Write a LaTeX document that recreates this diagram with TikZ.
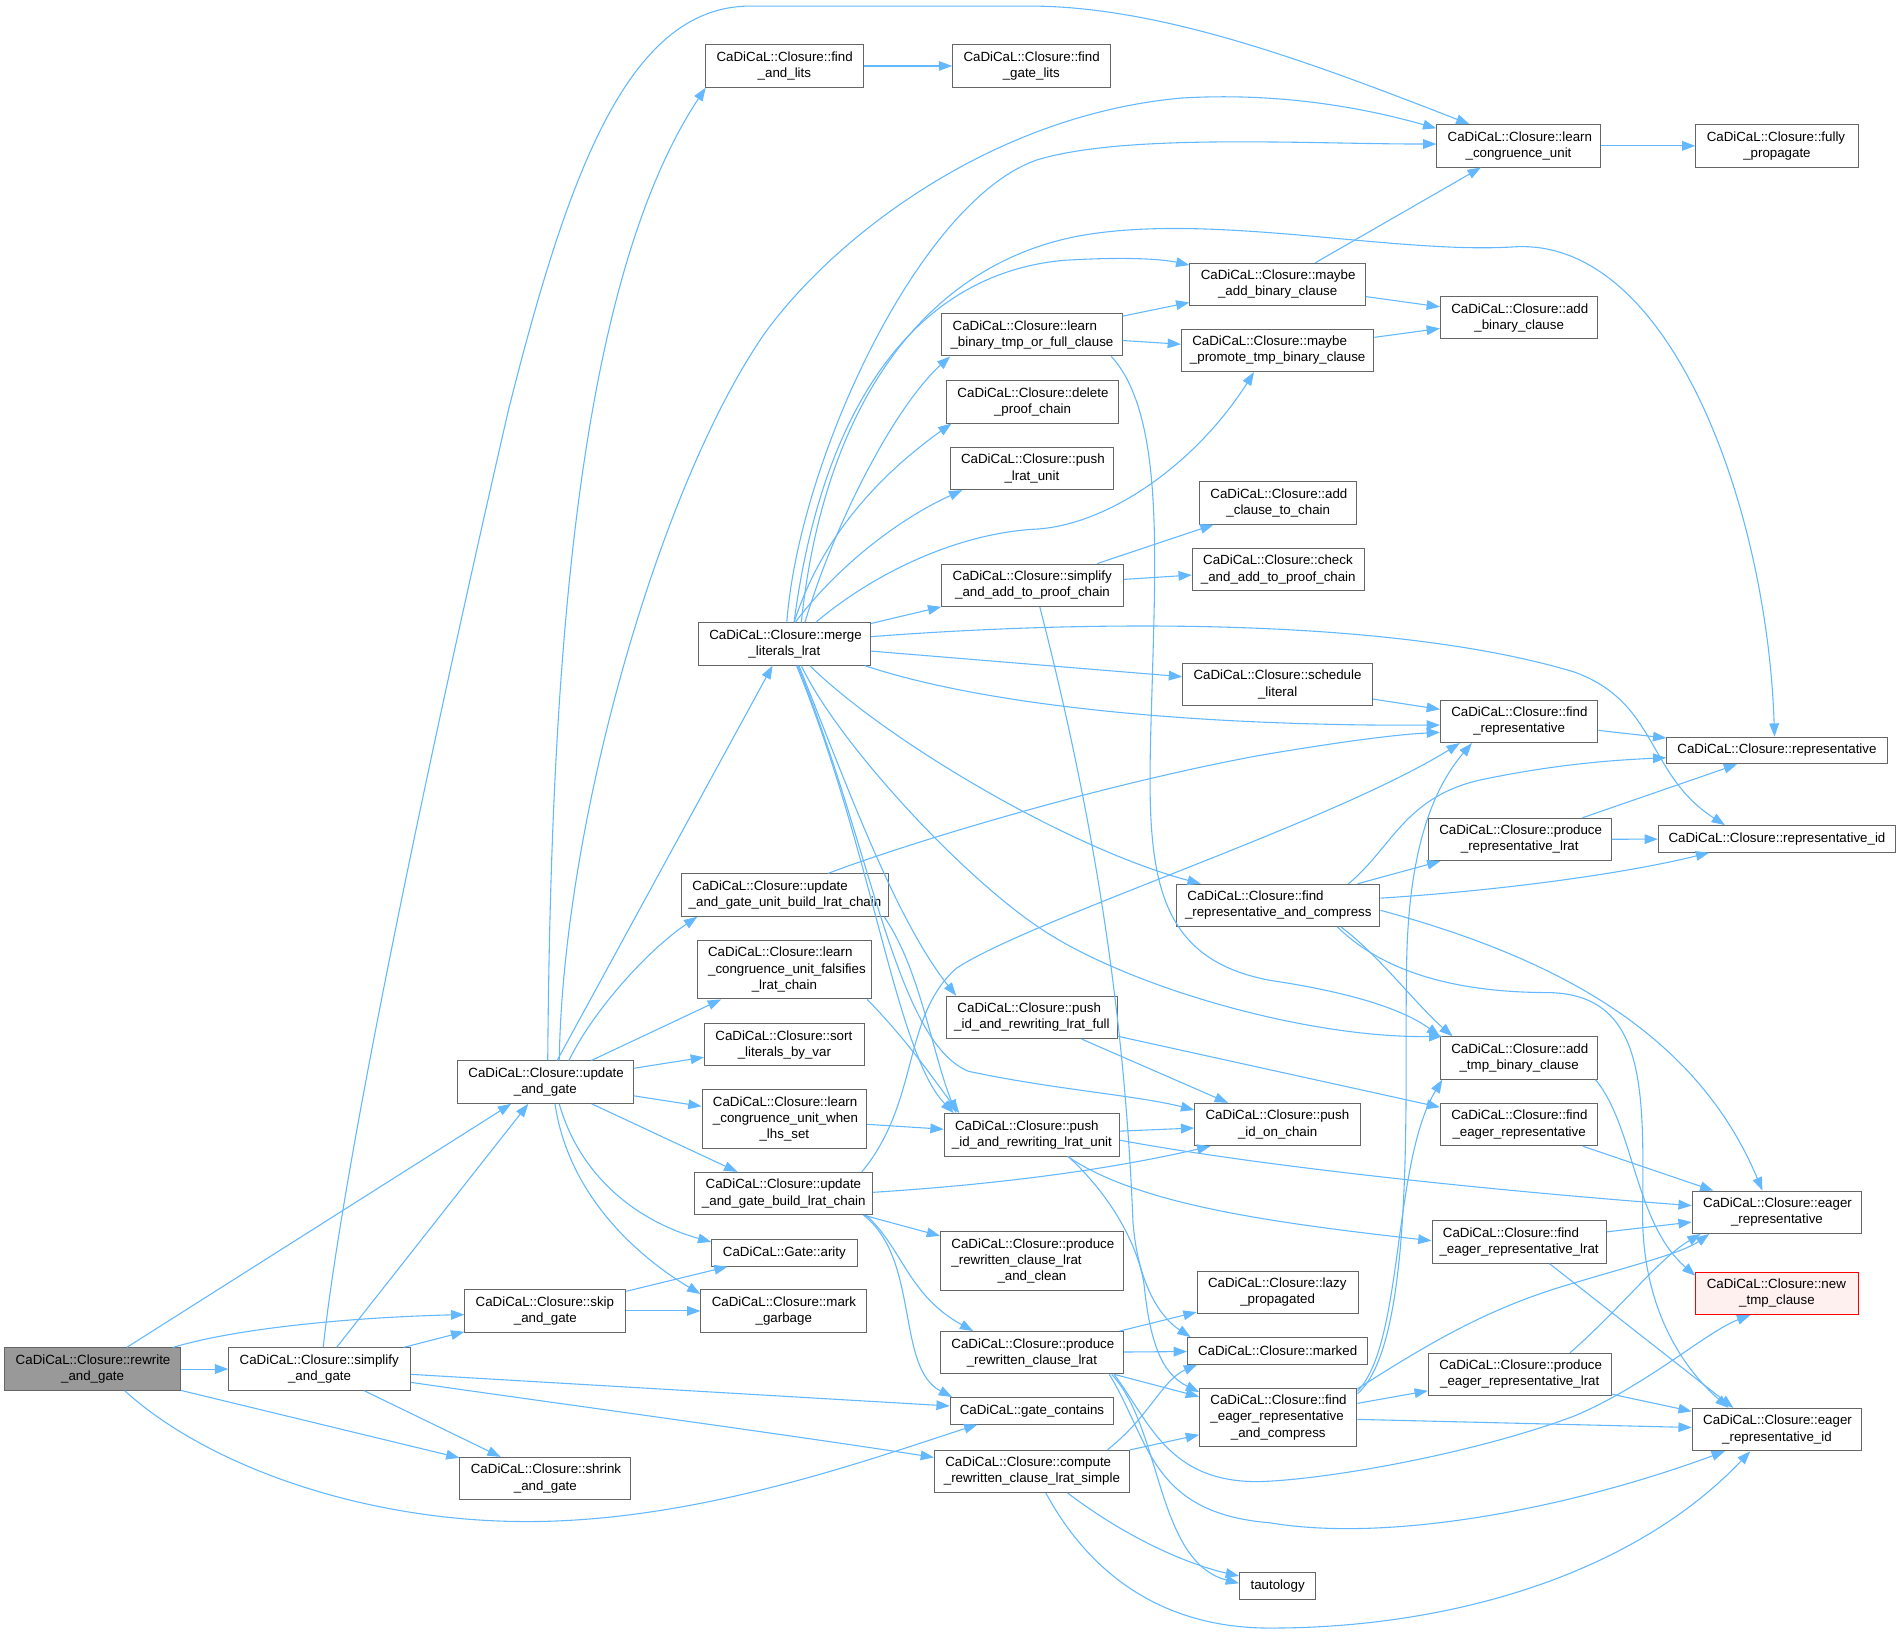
\documentclass[tikz,border=0pt]{standalone}
\usepackage{fontspec}
\setmainfont{Liberation Sans}
\usetikzlibrary{arrows.meta}
\definecolor{eb}{HTML}{63B8FF}
\definecolor{bg}{HTML}{666666}
\definecolor{gf}{HTML}{999999}
\definecolor{rf}{HTML}{FFF0F0}
\newcommand\nd[8][]{\node[box,minimum width=#5pt,minimum height=#6pt,#1] (#2) at (#3,#4) {\makebox[\dimexpr#5pt-18pt\relax][l]{#7}\\#8};}
\newcommand\ndt[9][]{\node[box,minimum width=#5pt,minimum height=#6pt,#1] (#2) at (#3,#4) {\makebox[\dimexpr#5pt-18pt\relax][l]{#7}\\\makebox[\dimexpr#5pt-18pt\relax][l]{#8}\\#9};}
\newcommand\nds[6][]{\node[box,minimum width=#5pt,minimum height=22pt,#1] (#2) at (#3,#4) {#6};}
\begin{document}
\begin{tikzpicture}[x=1pt,y=-1pt,
  box/.style={draw=bg,fill=white,line width=0.8pt,inner sep=0pt,align=center,font=\fontsize{11}{13.3}\selectfont},
  e/.style={draw=eb,line width=0.9pt,-{Triangle[length=11pt,width=8pt]}}]
\useasboundingbox (0,0) rectangle (1568,1351);
% nodes
\nd[fill=gf]{rw}{76.5}{1131}{145}{35}{CaDiCaL::Closure::rewrite}{\_and\_gate}
\nd{sg}{264}{1131}{150}{35}{CaDiCaL::Closure::simplify}{\_and\_gate}
\nd{sk}{450.5}{1083}{133}{35}{CaDiCaL::Closure::skip}{\_and\_gate}
\nd{sh}{450.5}{1221.5}{141}{35}{CaDiCaL::Closure::shrink}{\_and\_gate}
\nd{ug}{450.5}{894}{145}{35}{CaDiCaL::Closure::update}{\_and\_gate}
\nd{ml}{648}{532}{142}{35}{CaDiCaL::Closure::merge}{\_literals\_lrat}
\nd{fal}{648}{54.5}{130}{35}{CaDiCaL::Closure::find}{\_and\_lits}
\nd{fgl}{852}{54.5}{130}{35}{CaDiCaL::Closure::find}{\_gate\_lits}
\nd{lcu}{1254.5}{120.5}{135}{35}{CaDiCaL::Closure::learn}{\_congruence\_unit}
\nd{fp}{1468}{120.5}{134}{35}{CaDiCaL::Closure::fully}{\_propagate}
\nd{mab}{1055.5}{235}{145}{35}{CaDiCaL::Closure::maybe}{\_add\_binary\_clause}
\nd{abc}{1255}{262.5}{130}{35}{CaDiCaL::Closure::add}{\_binary\_clause}
\nd{lbt}{852.5}{276.5}{149}{35}{CaDiCaL::Closure::learn}{\_binary\_tmp\_or\_full\_clause}
\nd{mpt}{1055.5}{289.5}{159}{35}{CaDiCaL::Closure::maybe}{\_promote\_tmp\_binary\_clause}
\nd{dpc}{853}{332}{142}{35}{CaDiCaL::Closure::delete}{\_proof\_chain}
\nd{plu}{852.5}{387}{135}{35}{CaDiCaL::Closure::push}{\_lrat\_unit}
\nd{acc}{1056}{415.5}{130}{35}{CaDiCaL::Closure::add}{\_clause\_to\_chain}
\nd{saa}{853}{483.5}{150}{35}{CaDiCaL::Closure::simplify}{\_and\_add\_to\_proof\_chain}
\nd{cap}{1056}{470.5}{142}{35}{CaDiCaL::Closure::check}{\_and\_add\_to\_proof\_chain}
\nd{sl}{1055.5}{565.5}{157}{35}{CaDiCaL::Closure::schedule}{\_literal}
\nd{fr}{1255}{596}{130}{35}{CaDiCaL::Closure::find}{\_representative}
\nds{rep}{1468}{620}{182}{CaDiCaL::Closure::representative}
\nd{prl}{1255.5}{693.5}{151}{35}{CaDiCaL::Closure::produce}{\_representative\_lrat}
\nds{rid}{1468}{693}{196}{CaDiCaL::Closure::representative\_id}
\nd{frc}{1056}{748}{168}{35}{CaDiCaL::Closure::find}{\_representative\_and\_compress}
\nd{uub}{648.5}{739.5}{171}{35}{CaDiCaL::Closure::update}{\_and\_gate\_unit\_build\_lrat\_chain}
\ndt{lcf}{648}{801}{144}{48.5}{CaDiCaL::Closure::learn}{\_congruence\_unit\_falsifies}{\_lrat\_chain}
\nd{slv}{648}{863}{132}{35}{CaDiCaL::Closure::sort}{\_literals\_by\_var}
\ndt{lcw}{648}{924.5}{136}{48.5}{CaDiCaL::Closure::learn}{\_congruence\_unit\_when}{\_lhs\_set}
\nd{ubl}{647.5}{986}{147}{35}{CaDiCaL::Closure::update}{\_and\_gate\_build\_lrat\_chain}
\nd{pif}{852.5}{840.5}{141}{35}{CaDiCaL::Closure::push}{\_id\_and\_rewriting\_lrat\_full}
\nd{piu}{852.5}{937.5}{145}{35}{CaDiCaL::Closure::push}{\_id\_and\_rewriting\_lrat\_unit}
\nd{poc}{1055.5}{929}{137}{35}{CaDiCaL::Closure::push}{\_id\_on\_chain}
\nd{atb}{1255}{874}{130}{35}{CaDiCaL::Closure::add}{\_tmp\_binary\_clause}
\nd{fer}{1255}{929}{130}{35}{CaDiCaL::Closure::find}{\_eager\_representative}
\nd{er}{1468}{1001.5}{140}{35}{CaDiCaL::Closure::eager}{\_representative}
\nd{fel}{1255}{1026}{144}{35}{CaDiCaL::Closure::find}{\_eager\_representative\_lrat}
\nd[draw=red,fill=rf]{ntc}{1468}{1068.5}{134}{35}{CaDiCaL::Closure::new}{\_tmp\_clause}
\nd{pel}{1255.5}{1135.5}{151}{35}{CaDiCaL::Closure::produce}{\_eager\_representative\_lrat}
\nd{eid}{1468}{1181}{140}{35}{CaDiCaL::Closure::eager}{\_representative\_id}
\nds{ar}{648}{1035}{120}{CaDiCaL::Gate::arity}
\nd{mg}{647.5}{1083}{137}{35}{CaDiCaL::Closure::mark}{\_garbage}
\ndt{prc}{852.5}{1041.5}{151}{48.5}{CaDiCaL::Closure::produce}{\_rewritten\_clause\_lrat}{\_and\_clean}
\nd{prw}{852.5}{1117.5}{151}{35}{CaDiCaL::Closure::produce}{\_rewritten\_clause\_lrat}
\nd{lp}{1055.5}{1067.5}{133}{35}{CaDiCaL::Closure::lazy}{\_propagated}
\nds{mk}{1055.5}{1116}{149}{CaDiCaL::Closure::marked}
\ndt{fec}{1056}{1171}{130}{48.5}{CaDiCaL::Closure::find}{\_eager\_representative}{\_and\_compress}
\nds{gc}{852.5}{1165.5}{135}{CaDiCaL::gate\_contains}
\nd{crs}{852.5}{1215.5}{161}{35}{CaDiCaL::Closure::compute}{\_rewritten\_clause\_lrat\_simple}
\nds{ta}{1055.5}{1310}{63}{tautology}
% edges: rewrite
\draw[e] (rw) -- (ug);
\draw[e] ([xshift=66.5pt]rw.north) .. controls (200,1096) and (300,1088) .. ([yshift=-3pt]sk.west);
\draw[e] (rw) -- (sg);
\draw[e] (rw) -- (sh);
\draw[e] ([xshift=26.5pt]rw.south) .. controls (170,1210) and (300,1258) .. (440,1257) .. controls (580,1256) and (720,1205) .. ([xshift=-45pt]gc.south);
% simplify
\draw[e] ([xshift=3pt]sg.north) .. controls (285,950) and (360,600) .. (420,339) .. controls (470,140) and (520,5) .. (620,5) -- (850,5) .. controls (960,5) and (1084,52) .. ([xshift=-40.5pt]lcu.north);
\draw[e] (sg) -- (ug);
\draw[e] (sg) -- (sk);
\draw[e] (sg) -- (sh);
\draw[e] (sg) -- (gc);
\draw[e] ([yshift=-11pt]sg.east) .. controls (450,1158) and (650,1185) .. ([yshift=11.5pt]crs.west);
% update_and_gate
\draw[e] ([xshift=2pt]ug.north) .. controls (455,560) and (475,236) .. ([xshift=-65pt]fal.south);
\draw[e] ([xshift=11.5pt]ug.north) .. controls (465,680) and (545,400) .. (632,275) .. controls (690,195) and (820,95) .. (976,81) .. controls (1060,76) and (1130,90) .. ([yshift=14.5pt]lcu.west);
\draw[e] (ug) -- (ml);
\draw[e] ([xshift=19.5pt]ug.north) .. controls (490,835) and (535,785) .. ([xshift=-72.5pt]uub.south);
\draw[e] (ug) -- (lcf);
\draw[e] (ug) -- (slv);
\draw[e] (ug) -- (lcw);
\draw[e] (ug) -- (ubl);
\draw[e] ([xshift=11.5pt]ug.south) .. controls (480,975) and (530,1010) .. ([yshift=9pt]ar.west);
\draw[e] ([xshift=8pt]ug.south) .. controls (470,990) and (530,1040) .. ([yshift=14pt]mg.west);
% skip
\draw[e] (sk) -- (ar);
\draw[e] (sk) -- (mg);
% merge
\draw[e] ([xshift=2pt]ml.north) .. controls (660,380) and (760,165) .. (857,132) .. controls (930,110) and (1080,119) .. ([yshift=1.5pt]lcu.west);
\draw[e] ([xshift=8pt]ml.north) .. controls (680,330) and (760,225) .. (880,215) .. controls (930,212) and (960,214) .. ([yshift=16pt]mab.west);
\draw[e] ([xshift=14pt]ml.north) .. controls (680,340) and (760,220) .. (891,195) .. controls (1000,175) and (1150,210) .. (1250,204) .. controls (1380,195) and (1460,420) .. ([xshift=-2pt]rep.north);
\draw[e] ([xshift=17pt]ml.north) .. controls (690,430) and (740,335) .. ([xshift=-67.5pt]lbt.south);
\draw[e] ([xshift=8pt]ml.north) .. controls (680,440) and (730,390) .. ([xshift=-67pt]dpc.south);
\draw[e] ([xshift=9pt]ml.north) .. controls (690,470) and (740,430) .. ([xshift=-57.5pt]plu.south);
\draw[e] ([xshift=26pt]ml.north) .. controls (720,475) and (790,440) .. (858,437) .. controls (920,432) and (990,380) .. ([xshift=-19.5pt]mpt.south);
\draw[e] (ml) -- (saa);
\draw[e] ([yshift=6pt]ml.east) .. controls (900,512) and (1150,510) .. (1300,555) .. controls (1370,580) and (1360,640) .. ([xshift=-43pt]rid.north);
\draw[e] (ml) -- (sl);
\draw[e] ([xshift=-5pt]ml.south east) .. controls (820,585) and (1000,600) .. ([yshift=-3pt]fr.west);
\draw[e] ([xshift=21pt]ml.south) .. controls (730,610) and (880,700) .. ([xshift=-64pt]frc.north);
\draw[e] ([xshift=14pt]ml.south) .. controls (690,610) and (790,720) .. (858,766) .. controls (930,815) and (1080,858) .. ([xshift=2pt]atb.north west);
\draw[e] ([xshift=12pt]ml.south) .. controls (700,650) and (740,760) .. ([xshift=-62.5pt]pif.north);
\draw[e] ([xshift=10pt]ml.south) .. controls (720,700) and (740,870) .. ([xshift=-64.5pt]piu.north);
\draw[e] ([xshift=11pt]ml.south) .. controls (720,700) and (740,860) .. (800,885) .. controls (870,900) and (940,905) .. ([yshift=12pt]poc.west);
% misc upper
\draw[e] (fal) -- (fgl);
\draw[e] (lcu) -- (fp);
\draw[e] (mab) -- (lcu);
\draw[e] (mab) -- (abc);
\draw[e] (mpt) -- (abc);
\draw[e] (lbt) -- (mab);
\draw[e] (lbt) -- (mpt);
\draw[e] ([xshift=65.5pt]lbt.south) .. controls (960,340) and (955,450) .. (952,560) .. controls (948,700) and (940,790) .. (1050,810) .. controls (1130,822) and (1165,838) .. (atb.north west);
\draw[e] (saa) -- (acc);
\draw[e] (saa) -- (cap);
\draw[e] ([xshift=6pt]saa.south) .. controls (910,700) and (930,860) .. (936,1010) .. controls (940,1060) and (958,1088) .. ([xshift=3pt]mk.north west);
\draw[e] (sl) -- (fr);
\draw[e] (fr) -- (rep);
\draw[e] (prl) -- (rep);
\draw[e] (prl) -- (rid);
% find_representative_and_compress
\draw[e] ([xshift=58pt]frc.north) .. controls (1150,700) and (1160,660) .. (1220,645) .. controls (1280,632) and (1330,628) .. ([yshift=-6pt]rep.west);
\draw[e] (frc) -- (prl);
\draw[e] ([yshift=6pt]frc.east) .. controls (1250,735) and (1350,720) .. ([xshift=-56pt]rid.south);
\draw[e] ([yshift=-4pt]frc.east) .. controls (1280,790) and (1400,850) .. ([xshift=-12pt]er.north);
\draw[e] ([xshift=52pt]frc.south) .. controls (1140,790) and (1170,830) .. ([xshift=-55pt]atb.north);
\draw[e] ([xshift=49pt]frc.south) .. controls (1150,810) and (1220,820) .. (1280,820) .. controls (1360,822) and (1358,900) .. (1357,1000) .. controls (1356,1080) and (1390,1130) .. ([xshift=-40pt]eid.north);
% middle column
\draw[e] ([xshift=35.5pt]uub.north) .. controls (740,700) and (900,650) .. (1041,624) .. controls (1100,614) and (1150,607) .. ([yshift=-9pt]fr.west);
\draw[e] ([xshift=-4pt]uub.south east) .. controls (760,800) and (770,870) .. ([xshift=-62.5pt]piu.north);
\draw[e] ([xshift=-4pt]lcf.south east) .. controls (750,860) and (770,890) .. ([xshift=-60pt]piu.north);
\draw[e] (lcw) -- (piu);
\draw[e] ([xshift=64.5pt]ubl.north) .. controls (760,910) and (745,840) .. (790,800) .. controls (850,760) and (1100,680) .. ([xshift=-49pt]fr.south);
\draw[e] ([yshift=1pt]ubl.east) .. controls (800,980) and (900,970) .. ([xshift=-55.5pt]poc.south);
\draw[e] (ubl) -- (prc);
\draw[e] ([xshift=-6pt]ubl.south east) .. controls (745,1030) and (750,1070) .. ([xshift=-48.5pt]prw.north);
\draw[e] ([xshift=-8pt]ubl.south east) .. controls (760,1040) and (740,1130) .. ([xshift=2pt]gc.north west);
\draw[e] (pif) -- (poc);
\draw[e] (pif) -- (fer);
\draw[e] (piu) -- (poc);
\draw[e] ([yshift=-4.5pt]piu.east) .. controls (1050,965) and (1250,985) .. ([yshift=5.5pt]er.west);
\draw[e] ([xshift=29.5pt]piu.south) .. controls (940,995) and (1050,1010) .. ([yshift=1pt]fel.west);
\draw[e] ([xshift=30pt]piu.south) .. controls (920,990) and (940,1030) .. (945,1060) .. controls (950,1110) and (960,1135) .. ([yshift=21pt]fec.west);
% right side
\draw[e] (fer) -- (er);
\draw[e] (fel) -- (er);
\draw[e] ([xshift=25pt]fel.south) -- ([xshift=-36pt]eid.north);
\draw[e] ([xshift=41.5pt]pel.north) .. controls (1340,1080) and (1370,1040) .. ([xshift=-63pt]er.south);
\draw[e] (pel) -- (eid);
\draw[e] (fec) -- (pel);
\draw[e] (fec) -- (eid);
\draw[e] ([yshift=-1pt]fec.north east) .. controls (1180,1110) and (1230,1080) .. (1300,1060) .. controls (1350,1045) and (1390,1035) .. ([xshift=-56pt]er.south);
\draw[e] ([yshift=-3pt]fec.north east) .. controls (1160,1110) and (1150,960) .. ([xshift=2pt]atb.south west);
\draw[e] ([yshift=-5pt]fec.north east) .. controls (1170,1110) and (1160,900) .. (1162,800) .. controls (1163,700) and (1185,650) .. ([xshift=-39pt]fr.south);
\draw[e] ([xshift=63pt]atb.south) .. controls (1350,930) and (1350,1010) .. ([yshift=14.5pt]ntc.west);
% produce_rewritten_clause_lrat
\draw[e] (prw) -- (lp);
\draw[e] (prw) -- (mk);
\draw[e] (prw) -- (fec);
\draw[e] ([xshift=-10pt]prw.south east) .. controls (960,1180) and (955,1290) .. ([yshift=2pt]ta.west);
\draw[e] ([xshift=-12pt]prw.south east) .. controls (950,1190) and (950,1250) .. (1049,1258) .. controls (1150,1275) and (1300,1245) .. ([xshift=-43pt]eid.south);
\draw[e] ([xshift=-8pt]prw.south east) .. controls (950,1175) and (965,1225) .. (1041,1224) .. controls (1100,1222) and (1220,1200) .. (1300,1170) .. controls (1360,1145) and (1410,1100) .. ([xshift=-22pt]ntc.south);
% compute_rewritten_clause_lrat_simple
\draw[e] ([xshift=62.5pt]crs.north) .. controls (950,1170) and (960,1140) .. ([xshift=-66.5pt]mk.south);
\draw[e] (crs) -- (fec);
\draw[e] ([xshift=29.5pt]crs.south) .. controls (930,1270) and (980,1292) .. ([yshift=8pt]ta.west);
\draw[e] ([xshift=11.5pt]crs.south) .. controls (900,1300) and (960,1345) .. (1049,1345) .. controls (1200,1345) and (1350,1300) .. ([xshift=-22pt]eid.south);
\end{tikzpicture}
\end{document}
